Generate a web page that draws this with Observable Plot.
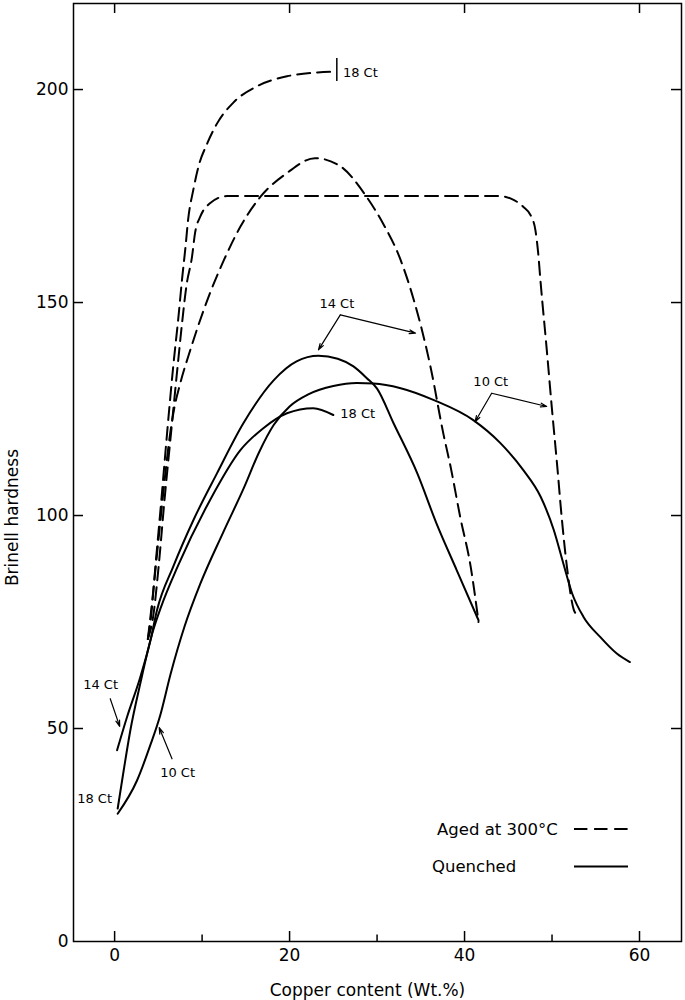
<!DOCTYPE html>
<html><head><meta charset="utf-8">
<script src="https://cdn.jsdelivr.net/npm/d3@7"></script>
<script src="https://cdn.jsdelivr.net/npm/@observablehq/plot@0.6"></script>
<style>body{margin:0;background:#fff}</style>
</head><body><div id="chart"></div>
<script>
// Tick values
const xMajorTicks = [0, 20, 40, 60];
const xMinorTicks = [10, 30, 50];
const yTicks = [0, 50, 100, 150, 200];
const yInnerTicks = [50, 100, 150, 200];

// Aged at 300°C (dashed) — [copper wt.%, Brinell hardness]
const aged18 = [[3.8,71],[4.16,76.2],[4.66,88],[5.34,103.6],[6.0,119.4],[6.7,135],[7.3,146.7],[7.7,155.3],[8.1,163],[8.4,169.4],[9.0,176.5],[9.6,182],[10.6,187.4],[11.7,192],[13.6,197],[16.3,200.8],[19.7,203.1],[23.2,204],[25.4,204.2]];
const aged14 = [[3.8,71],[4.3,80],[4.9,92],[5.6,106],[6.2,117],[6.8,125],[7.5,131],[8.66,138.9],[9.4,143.6],[10.9,152.2],[12.5,160],[14.4,167.9],[16.7,174.9],[19.7,180.4],[22.9,183.9],[25.8,182],[28.5,175.7],[30.7,168.5],[32.5,161],[34.2,150.6],[36.1,135],[37.6,119],[38.4,111.5],[39.5,99.7],[40.7,88],[41.6,75]];
const aged10 = [[3.8,71],[4.4,76.2],[5.03,88],[5.7,103.6],[6.45,119.4],[7.2,135],[7.7,145],[8.2,153.8],[8.85,160.8],[9.2,166.4],[9.8,170.2],[10.9,173.3],[12.85,175],[30,175],[44.0,175],[45.3,174.4],[46.7,172.5],[47.6,170.3],[48.1,167],[48.4,162],[48.7,154.6],[49.4,138.9],[50.0,124.8],[50.6,111.5],[51.1,99.7],[51.7,88],[52.5,77.8],[52.7,77]];

// Quenched (solid)
const quenched18 = [[0.35,31.2],[1.04,40.2],[1.8,49.6],[2.94,60.6],[4.3,72.3],[5.3,78.5],[7.2,88],[10.9,103.6],[14.4,115.4],[17.0,120.5],[19.7,124],[22.7,125.2],[25.0,123.6]];
const quenched14 = [[0.28,44.9],[1.42,52.7],[2.94,62.1],[4.1,70.7],[4.85,77.8],[6.7,88],[9.0,98.9],[11.7,109.9],[14.7,121.6],[18.2,131.8],[20.8,136.2],[23.3,137.5],[25.5,136.8],[27.3,135],[28.8,132.3],[30.0,129.8],[31.9,121.6],[34.6,109.9],[36.8,98.1],[39.1,87.2],[41.6,75.4]];
const quenched10 = [[0.35,30],[2.56,37.8],[4.1,46.2],[5.2,53],[6.4,62.8],[8.0,74],[9.8,84],[12.4,96],[14.8,106.6],[16.5,114.8],[18.2,121.3],[20.0,125.6],[22.2,128.5],[25.0,130.4],[27.7,131.1],[29.6,131],[32.7,129.9],[36.5,127.1],[41.0,122.4],[44.1,117],[46.7,110.7],[48.7,104.4],[50.2,96.6],[51.3,88.7],[52.3,81.7],[53.6,76.2],[55.5,71.5],[57.4,67.6],[58.9,65.6]];

// End marker of the 18 Ct aged curve
const endMark = [{x: 25.4, y1: 201.9, y2: 207.3}];

// Curve labels and their arrows
const labels = [
  {text: "18 Ct", x: 26.1, y: 204, anchor: "start"},
  {text: "14 Ct", x: 25.4, y: 149.7, anchor: "middle"},
  {text: "10 Ct", x: 43.0, y: 131.4, anchor: "middle"},
  {text: "18 Ct", x: 25.8, y: 123.9, anchor: "start"},
  {text: "14 Ct", x: -1.6, y: 60.2, anchor: "middle"},
  {text: "18 Ct", x: -0.3, y: 33.6, anchor: "end"},
  {text: "10 Ct", x: 7.2, y: 39.5, anchor: "middle"}
];
const arrows = [
  {x1: 25.8, y1: 147.1, x2: 23.3, y2: 138.9},
  {x1: 25.8, y1: 147.1, x2: 34.4, y2: 142.8},
  {x1: 43.1, y1: 128.7, x2: 41.2, y2: 122.0},
  {x1: 43.1, y1: 128.7, x2: 49.4, y2: 125.6},
  {x1: -0.5, y1: 57.0, x2: 0.58, y2: 50.5},
  {x1: 6.56, y1: 42.9, x2: 5.1, y2: 50.2}
];

const legendItems = [
  {label: "Aged at 300°C", dash: "13.4,6.7"},
  {label: "Quenched", dash: null}
];

// Layout
const W = 685, H = 1000, mT = 3, mR = 4, mB = 59, mL = 73;
const innerW = W - mL - mR, innerH = H - mT - mB;
const tickLen = 10, minorLen = 6.5;

const fx = d => d[0], fy = d => d[1];
const dashed = {x: fx, y: fy, stroke: "black", strokeWidth: 2, strokeDasharray: "13,7", curve: "monotone-x"};
const solid = {x: fx, y: fy, stroke: "black", strokeWidth: 2, curve: "monotone-x"};
const tickStyle = {stroke: "black", strokeWidth: 1.5};

const plot = Plot.plot({
  width: W,
  height: H,
  marginTop: mT,
  marginRight: mR,
  marginBottom: mB,
  marginLeft: mL,
  x: {domain: [-4.7, 64.8]},
  y: {domain: [0, 220.2]},
  style: {fontFamily: "DejaVu Sans", fontSize: "17px", color: "black", background: "white"},
  marks: [
    Plot.frame({stroke: "black", strokeWidth: 1.5}),
    // inward ticks
    Plot.tickX(xMajorTicks, {x: d => d, insetTop: innerH - tickLen, ...tickStyle}),
    Plot.tickX(xMinorTicks, {x: d => d, insetTop: innerH - minorLen, ...tickStyle}),
    Plot.tickX(xMajorTicks, {x: d => d, insetBottom: innerH - tickLen, ...tickStyle}),
    Plot.tickY(yInnerTicks, {y: d => d, insetRight: innerW - tickLen, ...tickStyle}),
    Plot.tickY(yInnerTicks, {y: d => d, insetLeft: innerW - tickLen, ...tickStyle}),
    // tick labels
    Plot.axisX({ticks: xMajorTicks, anchor: "bottom", tickSize: 0, tickPadding: 7.5, fontSize: 17, label: null}),
    Plot.axisY({ticks: yTicks, anchor: "left", tickSize: 0, tickPadding: 5, fontSize: 17, label: null}),
    // axis titles
    Plot.text(["Copper content (Wt.%)"], {text: d => d, frameAnchor: "bottom", textAnchor: "middle", lineAnchor: "middle", dy: 49, dx: -10, fontSize: 17}),
    Plot.text(["Brinell hardness"], {text: d => d, frameAnchor: "left", textAnchor: "middle", lineAnchor: "middle", dx: -61, dy: 45, rotate: -90, fontSize: 17}),
    // curves
    Plot.line(aged18, dashed),
    Plot.line(aged14, dashed),
    Plot.line(aged10, dashed),
    Plot.line(quenched18, solid),
    Plot.line(quenched14, solid),
    Plot.line(quenched10, solid),
    Plot.ruleX(endMark, {x: "x", y1: "y1", y2: "y2", stroke: "black", strokeWidth: 1.5}),
    // annotations
    Plot.arrow(arrows, {x1: "x1", y1: "y1", x2: "x2", y2: "y2", stroke: "black", strokeWidth: 1.2, headLength: 8, headAngle: 35}),
    ...["start", "middle", "end"].map(a =>
      Plot.text(labels.filter(d => d.anchor === a), {x: "x", y: "y", text: "text", textAnchor: a, fontSize: 13}))
  ]
});

document.getElementById("chart").appendChild(plot);

// Legend (inside the plot, lower right)
const svg = d3.select(plot);
const lg = svg.append("g").attr("font-family", "DejaVu Sans").attr("font-size", 16.5).attr("text-anchor", "start");
const textX = [437, 432];
legendItems.forEach((item, i) => {
  const yy = 829 + i * 37.5;
  lg.append("text").attr("x", textX[i]).attr("y", yy).attr("dy", "0.35em").attr("fill", "black").text(item.label);
  const ln = lg.append("line").attr("x1", 574).attr("x2", 628).attr("y1", yy).attr("y2", yy)
    .attr("stroke", "black").attr("stroke-width", 2);
  if (item.dash) ln.attr("stroke-dasharray", item.dash);
});
</script>
</body></html>
